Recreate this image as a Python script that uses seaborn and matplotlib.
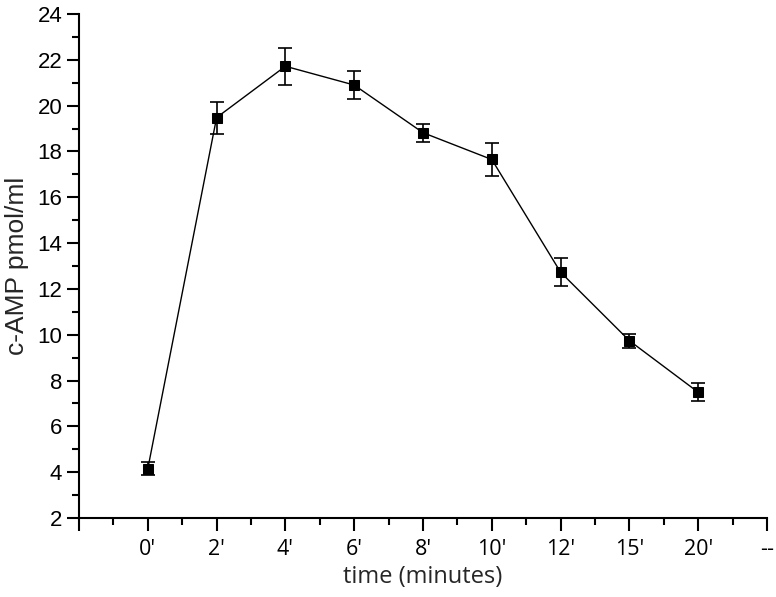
import numpy as np
import pandas as pd
import matplotlib
matplotlib.use("Agg")
import matplotlib.pyplot as plt
import seaborn as sns
from matplotlib.ticker import MultipleLocator

# values
time_labels = ["0'", "2'", "4'", "6'", "8'", "10'", "12'", "15'", "20'"]
camp_mean = [4.15, 19.48, 21.72, 20.90, 18.82, 17.65, 12.73, 9.74, 7.49]
camp_err = [0.28, 0.70, 0.80, 0.60, 0.40, 0.70, 0.60, 0.30, 0.40]
tick_labels = [""] + time_labels + ["--"]

sns.set_style("ticks")
plt.rcParams["font.family"] = ["Liberation Sans", "DejaVu Sans"]

df = pd.DataFrame({
    "pos": np.arange(1, len(time_labels) + 1),
    "camp": camp_mean,
    "err": camp_err,
})

fig = plt.figure(figsize=(7.76, 5.97), dpi=100)
ax = fig.add_axes([0.1018, 0.1323, 0.8866, 0.8442])

ax.errorbar(df["pos"], df["camp"], yerr=df["err"], fmt="none",
            ecolor="black", elinewidth=1.2, capsize=5, capthick=1.2, zorder=2)
sns.lineplot(data=df, x="pos", y="camp", color="black", linewidth=1.0,
             marker="s", markersize=7.5, markeredgecolor="black",
             markerfacecolor="black", ax=ax, zorder=3)

ax.set_xlim(0, len(tick_labels) - 1)
ax.set_ylim(2, 24)
ax.set_xticks(np.arange(len(tick_labels)))
ax.set_xticklabels(tick_labels, family=["Open Sans", "DejaVu Sans"], fontsize=15.5)
ax.xaxis.set_minor_locator(MultipleLocator(0.5))
ax.yaxis.set_major_locator(MultipleLocator(2))
ax.yaxis.set_minor_locator(MultipleLocator(1))

ax.tick_params(axis="both", which="major", length=9, width=1.5,
               direction="out", colors="black")
ax.tick_params(axis="x", which="major", pad=6)
ax.tick_params(axis="y", which="major", pad=3, labelsize=16)
ax.tick_params(axis="both", which="minor", length=5, width=1.5,
               direction="out", colors="black")

sns.despine(ax=ax)
for side in ["left", "bottom"]:
    ax.spines[side].set_linewidth(1.5)
    ax.spines[side].set_color("black")

ax.set_xlabel("time (minutes)", fontsize=17, family=["Open Sans", "DejaVu Sans"], labelpad=4)
ax.set_ylabel("c-AMP pmol/ml", fontsize=19, labelpad=6)

fig.savefig("out.png", dpi=100)
